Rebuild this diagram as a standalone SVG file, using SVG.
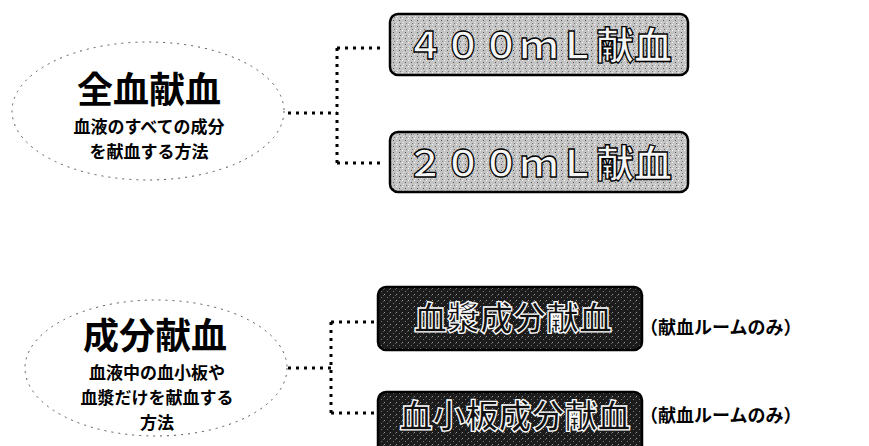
<svg xmlns="http://www.w3.org/2000/svg" width="869" height="446" viewBox="0 0 869 446">
<style>
.ell{fill:none;stroke:#555;stroke-width:1;stroke-dasharray:2 5}
.title{font-family:"Noto Sans CJK JP","Noto Sans",sans-serif;font-weight:bold;font-size:36px;fill:#000;text-anchor:middle}
.sub{font-family:"Noto Sans CJK JP","Noto Sans",sans-serif;font-weight:bold;font-size:17px;fill:#000;text-anchor:middle}
.lbox{fill:url(#noiseL);stroke:#000;stroke-width:2.5}
.dbox{fill:url(#noiseD);stroke:#000;stroke-width:2.5}
.ltxt{font-family:"Noto Sans CJK JP",sans-serif;font-weight:bold;font-size:38px;fill:#f6f6f6;stroke:#000;stroke-width:1.3;text-anchor:middle}
.dtxt{font-family:"Noto Sans CJK JP",sans-serif;font-weight:bold;font-size:33px;fill:#111;stroke:#fff;stroke-width:1.3;text-anchor:middle}
.note{font-family:"Noto Sans CJK JP",sans-serif;font-weight:bold;font-size:18px;fill:#000}
.conn{fill:none;stroke:#000;stroke-width:3;stroke-dasharray:3 5}
</style>
<defs>
<pattern id="noiseL" width="6" height="6" patternUnits="userSpaceOnUse">
<rect width="6" height="6" fill="#c4c4c4"/>
<rect x="0" y="0" width="1" height="1" fill="#fff"/>
<rect x="3" y="2" width="1" height="1" fill="#555"/>
<rect x="1" y="4" width="1" height="1" fill="#eee"/>
<rect x="4" y="5" width="1" height="1" fill="#777"/>
</pattern>
<pattern id="noiseD" width="6" height="6" patternUnits="userSpaceOnUse">
<rect width="6" height="6" fill="#1c1c1c"/>
<rect x="0" y="0" width="1" height="1" fill="#999"/>
<rect x="3" y="3" width="1" height="1" fill="#777"/>
<rect x="5" y="1" width="1" height="1" fill="#555"/>
</pattern>
</defs>
<rect width="869" height="446" fill="#fff"/>

<g id="connectors">
<path class="conn" d="M288 113 H337 M337 48 V163 M337 48 H380 M337 163 H380"/>
<path class="conn" d="M288 368 H331 M331 322 V413 M331 322 H376 M331 413 H376"/>
</g>

<g id="zenketsu">
<ellipse class="ell" cx="148" cy="111" rx="136" ry="69"/>
<text class="title" x="149" y="103">全血献血</text>
<text class="sub" x="149" y="133">血液のすべての成分</text>
<text class="sub" x="149" y="158">を献血する方法</text>
</g>

<g id="seibun">
<ellipse class="ell" cx="156" cy="368" rx="131" ry="68"/>
<text class="title" x="155" y="349">成分献血</text>
<text class="sub" x="157" y="379">血液中の血小板や</text>
<text class="sub" x="157" y="404">血漿だけを献血する</text>
<text class="sub" x="157" y="429">方法</text>
</g>

<g id="b400">
<rect class="lbox" x="390" y="14" width="298" height="61" rx="8"/>
<text class="ltxt" x="539" y="59">４００ｍＬ献血</text>
</g>

<g id="b200">
<rect class="lbox" x="390" y="132" width="298" height="60" rx="8"/>
<text class="ltxt" x="539" y="177">２００ｍＬ献血</text>
</g>

<g id="kessho">
<rect class="dbox" x="378" y="287" width="264" height="63" rx="8"/>
<text class="dtxt" x="513" y="330">血漿成分献血</text>
<text class="note" x="640" y="334">（献血ルームのみ）</text>
</g>

<g id="kesshoban">
<rect class="dbox" x="378" y="392" width="264" height="70" rx="8"/>
<text class="dtxt" x="515" y="428">血小板成分献血</text>
<text class="note" x="640" y="422">（献血ルームのみ）</text>
</g>
</svg>
